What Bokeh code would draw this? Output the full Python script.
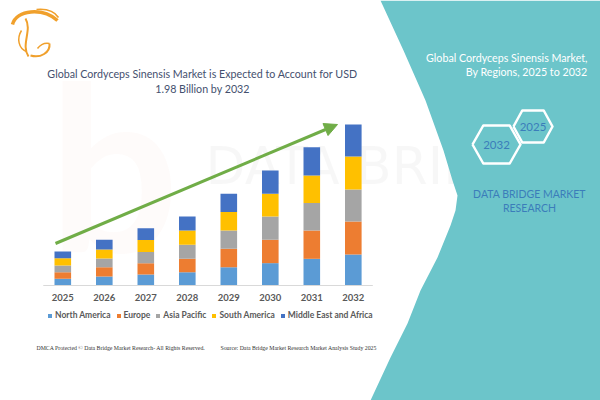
from bokeh.plotting import figure
from bokeh.models import Range1d, Arrow, NormalHead
from bokeh.core.properties import value
from bokeh.embed import file_html
from bokeh.resources import INLINE

# ---------------- data ----------------
years = [2025, 2026, 2027, 2028, 2029, 2030, 2031, 2032]
regions = ["North America", "Europe", "Asia Pacific", "South America", "Middle East and Africa"]
north_america = [0.082, 0.111, 0.135, 0.164, 0.226, 0.275, 0.328, 0.381]
europe = [0.082, 0.115, 0.139, 0.164, 0.226, 0.287, 0.348, 0.406]
asia_pacific = [0.082, 0.107, 0.139, 0.172, 0.226, 0.287, 0.340, 0.394]
south_america = [0.090, 0.111, 0.148, 0.176, 0.226, 0.279, 0.336, 0.406]
middle_east_africa = [0.082, 0.119, 0.144, 0.172, 0.226, 0.287, 0.348, 0.394]
year_labels = [str(y) for y in years]
colors = ["#5B9BD5", "#ED7D31", "#A5A5A5", "#FFC000", "#4472C4"]

title_lines = ["Global Cordyceps Sinensis Market is Expected to Account for USD",
               "1.98 Billion by 2032"]
side_lines = ["Global Cordyceps Sinensis Market,", "By Regions, 2025 to 2032"]
brand_lines = ["DATA BRIDGE MARKET", "RESEARCH"]
footer_left = "DMCA Protected \u00a9 Data Bridge Market Research- All Rights Reserved."
footer_right = "Source: Data Bridge Market Research Market Analysis Study 2025"

# ---------------- figure ----------------
W, H = 600, 400
px_per_year = 41.5
x0 = years[0] - 62.3 / px_per_year
px_per_unit = 81.3
y0 = -115 / px_per_unit

p = figure(width=W, height=H, min_border=0, toolbar_location=None, output_backend="svg",
           x_range=Range1d(x0, x0 + W / px_per_year),
           y_range=Range1d(y0, y0 + H / px_per_unit),
           x_axis_location=None, y_axis_location=None,
           outline_line_color=None, background_fill_color="white", border_fill_color="white")
p.grid.visible = False
p.extra_x_ranges = {"px": Range1d(0, W)}
p.extra_y_ranges = {"px": Range1d(H, 0)}
PX = dict(x_range_name="px", y_range_name="px")

# faint watermark
p.text(x=[48], y=[300], text=["b"], text_font=value("Lato"), text_font_style="bold",
       text_font_size="230px", text_color="#E8503A", text_alpha=0.025, **PX)
p.text(x=[205], y=[195], text=["DATA BRIDGE"], text_font=value("DejaVu Sans"),
       text_font_size="52px", text_color="#000000", text_alpha=0.03, **PX)

# teal panel
bx = [380, 403, 425, 443, 452, 457, 455, 450, 437, 420, 407, 390, 370]
by = [0, 50, 100, 150, 180, 195, 210, 225, 257, 290, 323, 357, 400]
p.patch(x=bx + [600, 600], y=by + [400, 0], fill_color="#6CC5CA", line_color=None, **PX)

# logo
orange = "#F0A02C"
p.bezier(x0=[12], y0=[24], x1=[57], y1=[20], cx0=[16], cy0=[9], cx1=[42], cy1=[7],
         line_color=orange, line_width=3.5, **PX)
p.bezier(x0=[36], y0=[9], x1=[58], y1=[17], cx0=[47], cy0=[8], cx1=[54], cy1=[11],
         line_color=orange, line_width=1.5, **PX)
p.bezier(x0=[25], y0=[18], x1=[28], y1=[56], cx0=[32], cy0=[30], cx1=[20], cy1=[44],
         line_color=orange, line_width=2, **PX)
p.bezier(x0=[21], y0=[30], x1=[26], y1=[51], cx0=[16], cy0=[38], cx1=[18], cy1=[48],
         line_color=orange, line_width=1.5, **PX)
p.bezier(x0=[30], y0=[55], x1=[49], y1=[43], cx0=[40], cy0=[58], cx1=[50], cy1=[52],
         line_color=orange, line_width=2, **PX)
p.bezier(x0=[37], y0=[48], x1=[49], y1=[43], cx0=[40], cy0=[44], cx1=[44], cy1=[42],
         line_color=orange, line_width=1.5, **PX)

# title
title_font = value("Lato")
p.text(x=[202, 202], y=[73, 87.5], text=title_lines, text_font=title_font,
       text_font_size="10.7px", text_color="#44506E", text_align="center",
       text_baseline="middle", **PX)

# bars
data = dict(year=years, north_america=north_america, europe=europe,
            asia_pacific=asia_pacific, south_america=south_america,
            middle_east_africa=middle_east_africa)
stack = ["north_america", "europe", "asia_pacific", "south_america", "middle_east_africa"]
p.vbar_stack(stack, x="year", width=0.40, color=colors, line_color=None,
             source=data, legend_label=regions)

# baseline
p.segment(x0=[years[0] - 0.47], x1=[years[-1] + 0.47], y0=[0], y1=[0],
          line_color="#D9D9D9", line_width=1)

# year labels
p.text(x=years, y=[0] * len(years), text=year_labels, y_offset=12,
       text_font=value("Lato"), text_font_style="bold", text_font_size="9.5px",
       text_color="#595959", text_align="center", text_baseline="middle")

# growth arrow
p.add_layout(Arrow(end=NormalHead(size=13, fill_color="#70AD47", line_color="#70AD47"),
                   x_start=55, y_start=243, x_end=337, y_end=124,
                   line_color="#70AD47", line_width=3, **PX))

# legend
lg = p.legend[0]
lg.orientation = "horizontal"
lg.location = (47, 80)
lg.glyph_width = 5
lg.glyph_height = 5
lg.label_standoff = 3
lg.spacing = 5
lg.padding = 0
lg.margin = 0
lg.label_height = 10
lg.label_text_font = "Lato"
lg.label_text_font_style = "bold"
lg.label_text_font_size = "8.5px"
lg.label_text_color = "#595959"
lg.background_fill_alpha = 0
lg.border_line_alpha = 0

# footer
p.text(x=[36], y=[347], text=[footer_left], text_font=value("Liberation Serif"),
       text_font_size="5.8px", text_color="#333333", text_baseline="middle", **PX)
p.text(x=[220], y=[347], text=[footer_right], text_font=value("Liberation Serif"),
       text_font_size="5.8px", text_color="#333333", text_baseline="middle", **PX)

# right panel texts
p.text(x=[587, 587], y=[57, 71], text=side_lines, text_font=title_font,
       text_font_size="10.7px", text_color="#FFFFFF", text_align="right",
       text_baseline="middle", **PX)

def hexagon(cx, cy, w, h):
    return ([cx - w, cx - w * 0.55, cx + w * 0.55, cx + w, cx + w * 0.55, cx - w * 0.55, cx - w],
            [cy, cy - h, cy - h, cy, cy + h, cy + h, cy])

for (cx, cy, w, h) in [(496, 144, 24, 19), (532.5, 126, 19.5, 16)]:
    hx, hy = hexagon(cx, cy, w, h)
    p.line(x=hx, y=hy, line_color="white", line_width=2.5, line_join="round", **PX)

p.text(x=[496, 532.5], y=[144, 126], text=["2032", "2025"], text_font=title_font,
       text_font_size="11.5px", text_color="#3B7DBA", text_align="center",
       text_baseline="middle", **PX)
p.text(x=[529, 529], y=[193.5, 207.5], text=brand_lines, text_font=title_font,
       text_font_size="10.5px", text_color="#3B7DBA", text_align="center",
       text_baseline="middle", **PX)

open("out.html", "w").write(file_html(p, INLINE))
